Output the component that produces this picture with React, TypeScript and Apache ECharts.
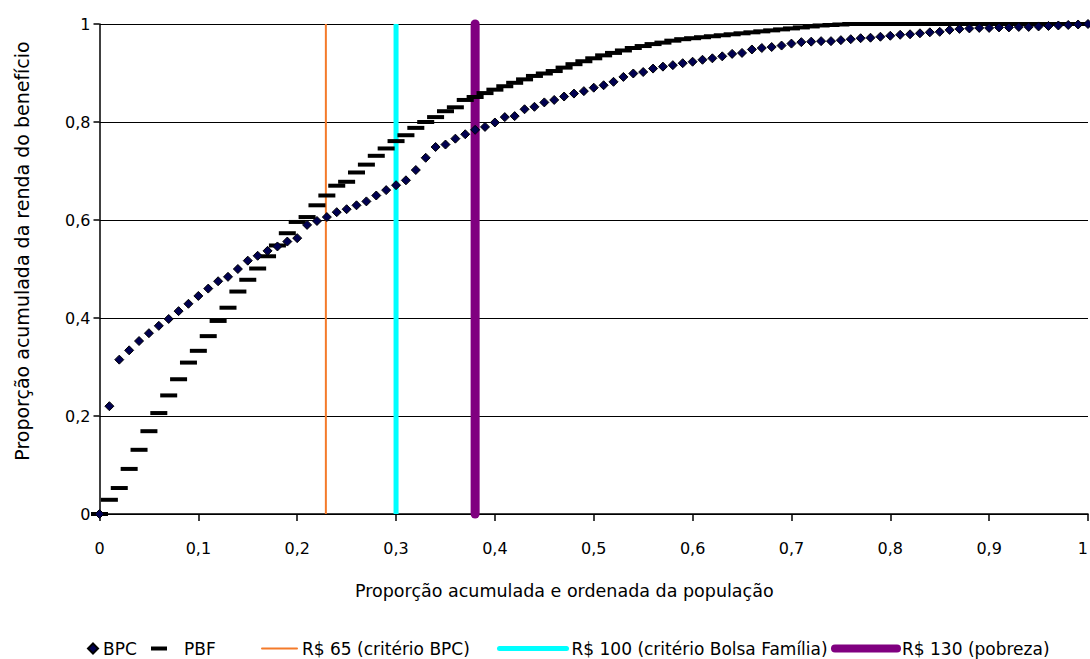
import React, { useEffect, useRef } from "react";
import * as echarts from "echarts";

const populationShare = [
  0, 0.01, 0.02, 0.03, 0.04, 0.05, 0.06, 0.07, 0.08, 0.09,
  0.1, 0.11, 0.12, 0.13, 0.14, 0.15, 0.16, 0.17, 0.18, 0.19,
  0.2, 0.21, 0.22, 0.23, 0.24, 0.25, 0.26, 0.27, 0.28, 0.29,
  0.3, 0.31, 0.32, 0.33, 0.34, 0.35, 0.36, 0.37, 0.38, 0.39,
  0.4, 0.41, 0.42, 0.43, 0.44, 0.45, 0.46, 0.47, 0.48, 0.49,
  0.5, 0.51, 0.52, 0.53, 0.54, 0.55, 0.56, 0.57, 0.58, 0.59,
  0.6, 0.61, 0.62, 0.63, 0.64, 0.65, 0.66, 0.67, 0.68, 0.69,
  0.7, 0.71, 0.72, 0.73, 0.74, 0.75, 0.76, 0.77, 0.78, 0.79,
  0.8, 0.81, 0.82, 0.83, 0.84, 0.85, 0.86, 0.87, 0.88, 0.89,
  0.9, 0.91, 0.92, 0.93, 0.94, 0.95, 0.96, 0.97, 0.98, 0.99,
  1,
];

const bpcValues = [
  0, 0.22, 0.315, 0.334, 0.353, 0.369, 0.384, 0.398, 0.414, 0.429,
  0.445, 0.46, 0.475, 0.484, 0.5, 0.517, 0.527, 0.537, 0.546, 0.556,
  0.563, 0.59, 0.598, 0.606, 0.616, 0.622, 0.63, 0.638, 0.65, 0.661,
  0.671, 0.681, 0.702, 0.727, 0.749, 0.754, 0.766, 0.775, 0.784, 0.79,
  0.799, 0.81, 0.812, 0.826, 0.831, 0.84, 0.845, 0.852, 0.858, 0.863,
  0.87, 0.875, 0.882, 0.892, 0.899, 0.902, 0.909, 0.913, 0.916, 0.92,
  0.923, 0.927, 0.93, 0.934, 0.939, 0.941, 0.948, 0.951, 0.953, 0.956,
  0.96, 0.963, 0.964, 0.965, 0.965, 0.967, 0.969, 0.971, 0.972, 0.974,
  0.976, 0.978, 0.979, 0.981, 0.983, 0.984, 0.988, 0.99, 0.991, 0.992,
  0.992, 0.993, 0.993, 0.994, 0.994, 0.995, 0.996, 0.997, 0.998, 0.999,
  1,
];

const pbfValues = [
  0, 0.029, 0.053, 0.092, 0.131, 0.169, 0.206, 0.242, 0.275, 0.309,
  0.333, 0.363, 0.394, 0.421, 0.454, 0.478, 0.501, 0.526, 0.548, 0.573,
  0.596, 0.606, 0.63, 0.65, 0.67, 0.678, 0.697, 0.713, 0.731, 0.746,
  0.761, 0.773, 0.788, 0.8, 0.81, 0.822, 0.83, 0.845, 0.851, 0.859,
  0.866, 0.873, 0.88, 0.887, 0.894, 0.899, 0.904, 0.911, 0.918, 0.924,
  0.93, 0.936, 0.941, 0.946, 0.951, 0.955, 0.959, 0.962, 0.966, 0.969,
  0.971, 0.973, 0.975, 0.977, 0.979, 0.981, 0.983, 0.985, 0.987, 0.989,
  0.991, 0.993, 0.995, 0.997, 0.998, 0.999, 1, 1, 1, 1,
  1, 1, 1, 1, 1, 1, 1, 1, 1, 1,
  1, 1, 1, 1, 1, 1, 1, 1, 1, 1,
  1,
];

const thresholdNames = ["R$ 65 (critério BPC)", "R$ 100 (critério Bolsa Família)", "R$ 130 (pobreza)"];
const thresholdPositions = [0.229, 0.3, 0.38];
const thresholdColors = ["#F47A2A", "#00FFFF", "#800080"];
const thresholdWidths = [2, 5, 9];

const xTickLabels = ["0", "0,1", "0,2", "0,3", "0,4", "0,5", "0,6", "0,7", "0,8", "0,9", "1"];
const yTickLabels = ["0", "0,2", "0,4", "0,6", "0,8", "1"];

const FONT = "DejaVu Sans";

export default function App() {
  const ref = useRef<HTMLDivElement>(null);

  useEffect(() => {
    if (!ref.current) return;
    const chart = echarts.init(ref.current, null, { renderer: "svg" });

    const thresholdSeries = thresholdNames.map((name, i) => ({
      name,
      type: "line",
      data: [
        [thresholdPositions[i], 0],
        [thresholdPositions[i], 1],
      ],
      symbol: "none",
      clip: false,
      z: 1,
      lineStyle: {
        color: thresholdColors[i],
        width: thresholdWidths[i],
        cap: i === 2 ? "round" : "butt",
      },
      itemStyle: { color: thresholdColors[i] },
    }));

    const legendLefts = [261, 497, 831];
    const legendWidths = [35, 67, 62];
    const legendLineWidths = [2, 5, 8];

    const legendBase = {
      top: 640,
      padding: 0,
      itemGap: 0,
      textStyle: { fontFamily: FONT, fontSize: 17, color: "#000" },
    };

    const option: any = {
      animation: false,
      grid: { left: 99.5, right: 2, top: 24, bottom: 145, outerBoundsMode: "none" },
      xAxis: {
        type: "value",
        min: 0,
        max: 1,
        interval: 0.1,
        axisLine: { show: true, lineStyle: { color: "#000", width: 1.5 } },
        axisTick: { show: true, length: 7, lineStyle: { color: "#000", width: 1.5 } },
        axisLabel: {
          margin: 26,
          color: "#000",
          fontFamily: FONT,
          fontSize: 16,
          alignMaxLabel: "right",
          formatter: (v: number) => xTickLabels[Math.round(v * 10)],
        },
        splitLine: { show: false },
      },
      yAxis: {
        type: "value",
        min: 0,
        max: 1,
        interval: 0.2,
        axisLine: { show: true, lineStyle: { color: "#000", width: 1.5 } },
        axisTick: { show: true, length: 6, lineStyle: { color: "#000", width: 1.5 } },
        axisLabel: {
          margin: 9,
          color: "#000",
          fontFamily: FONT,
          fontSize: 16,
          formatter: (v: number) => yTickLabels[Math.round(v * 5)],
        },
        splitLine: { show: true, lineStyle: { color: "#000", width: 1.2 } },
      },
      legend: [
        {
          ...legendBase,
          left: 87,
          data: ["BPC"],
          itemWidth: 10,
          itemHeight: 10,
        },
        {
          ...legendBase,
          left: 151,
          data: ["PBF"],
          itemWidth: 16,
          itemHeight: 4,
          textStyle: { ...legendBase.textStyle, padding: [0, 0, 0, 12] },
        },
        ...thresholdNames.map((name, i) => ({
          ...legendBase,
          left: legendLefts[i],
          data: [name],
          itemWidth: legendWidths[i],
          itemHeight: 10,
          itemStyle: { opacity: 0 },
          lineStyle: { width: legendLineWidths[i], cap: "round" },
        })),
      ],
      graphic: [
        {
          type: "text",
          left: 355,
          top: 582,
          style: {
            text: "Proporção acumulada e ordenada da população",
            fontFamily: FONT,
            fontSize: 17.5,
            fill: "#000",
          },
        },
        {
          type: "text",
          x: 22,
          y: 251,
          rotation: Math.PI / 2,
          style: {
            text: "Proporção acumulada da renda do benefício",
            fontFamily: FONT,
            fontSize: 19,
            fill: "#000",
            align: "center",
            verticalAlign: "middle",
          },
        },
      ],
      series: [
        ...thresholdSeries,
        {
          name: "PBF",
          type: "scatter",
          symbol: "rect",
          symbolSize: [17, 4],
          symbolKeepAspect: false,
          z: 3,
          itemStyle: { color: "#000", opacity: 1 },
          data: populationShare.map((x, i) => [x, pbfValues[i]]),
        },
        {
          name: "BPC",
          type: "scatter",
          symbol: "diamond",
          symbolSize: 9,
          z: 4,
          itemStyle: { color: "#000050", borderColor: "#000", borderWidth: 1, opacity: 1 },
          data: populationShare.map((x, i) => [x, bpcValues[i]]),
        },
      ],
    };

    chart.setOption(option);
    return () => chart.dispose();
  }, []);

  return (
    <div
      ref={ref}
      style={{ position: "absolute", left: 0, top: 0, width: 1090, height: 659, background: "#fff" }}
    />
  );
}
